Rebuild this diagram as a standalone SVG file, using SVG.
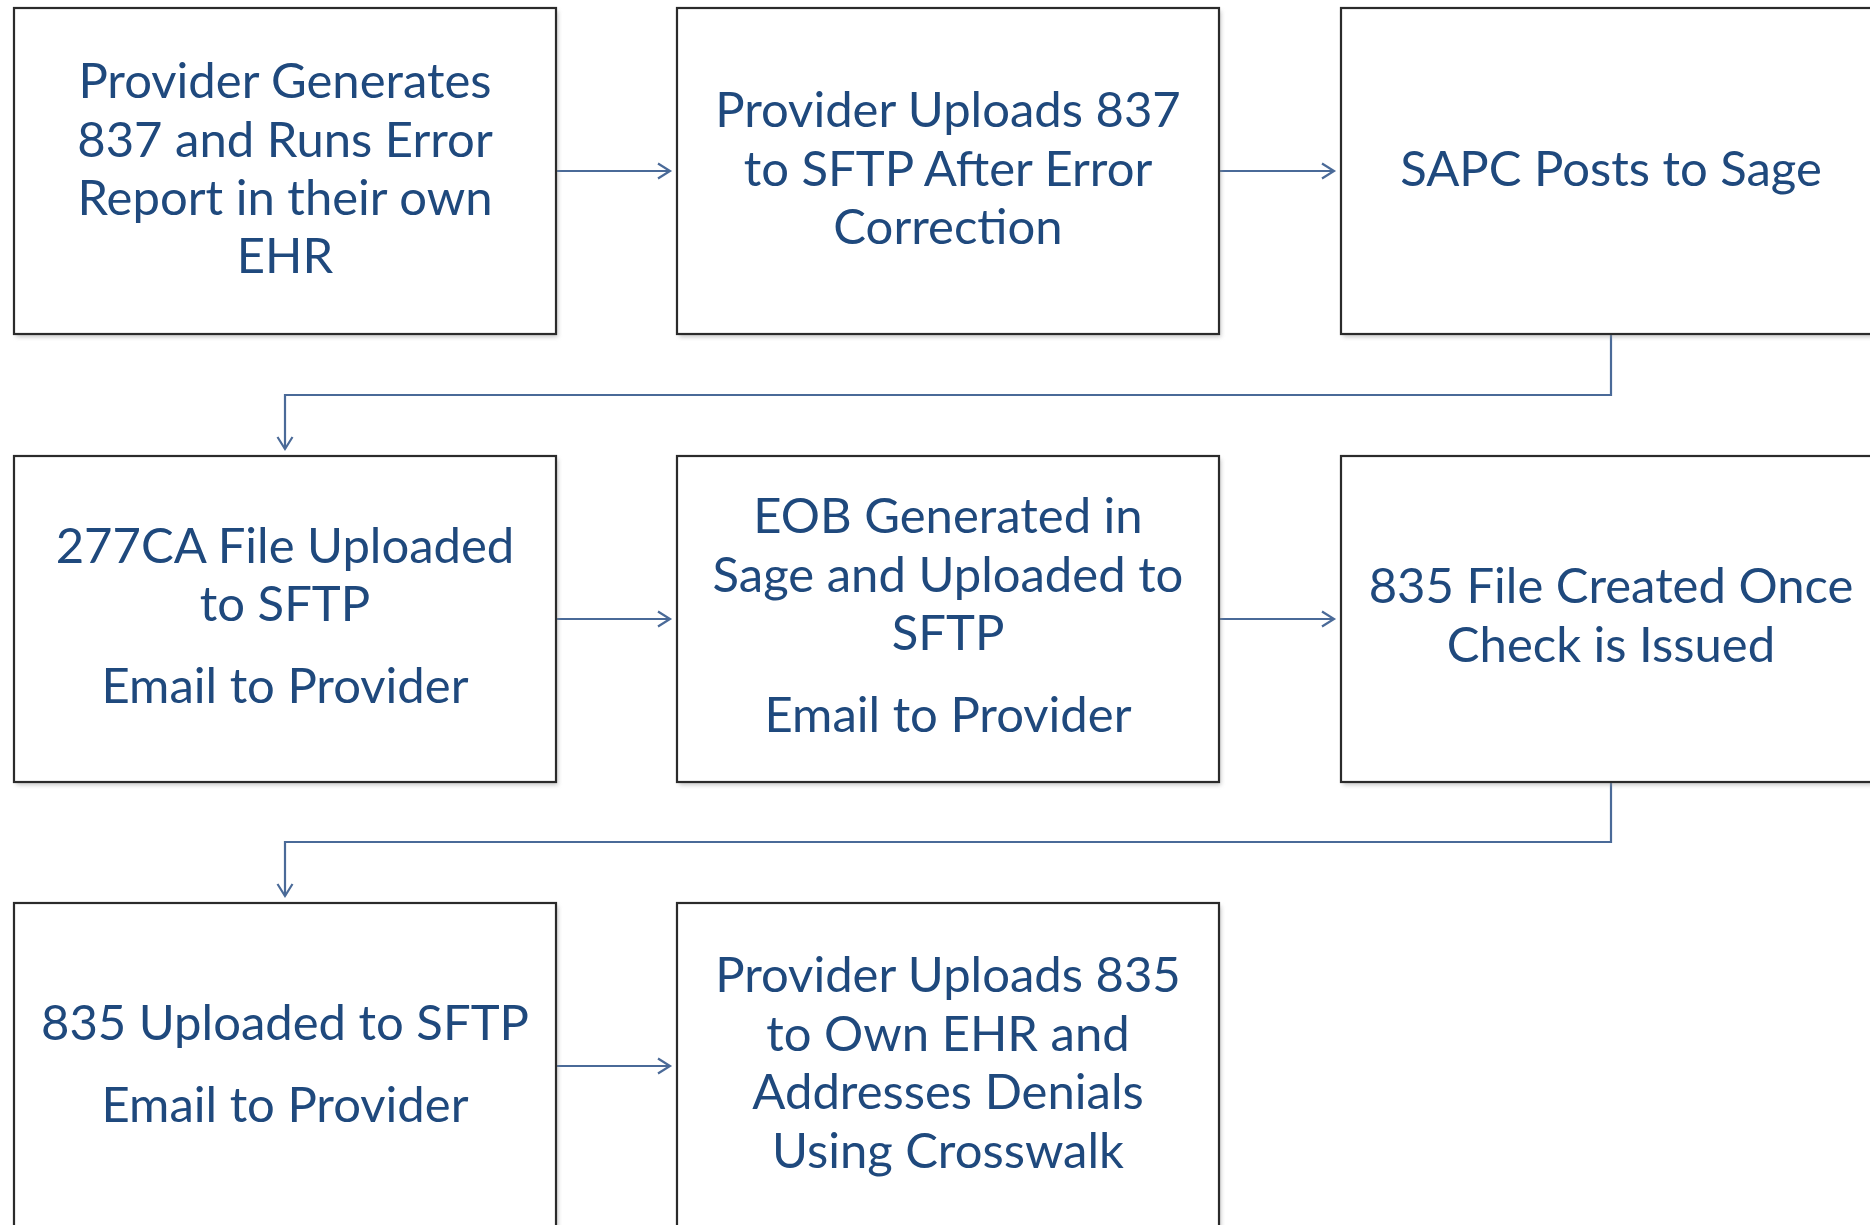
<svg xmlns="http://www.w3.org/2000/svg" width="1870" height="1225" viewBox="0 0 1870 1225">
<style>
.box{fill:#ffffff;stroke:#2b2b2b;stroke-width:2.2}
.sh{fill:#9a9a9a;opacity:0.55}
.t{font-family:Lato,"Liberation Sans",sans-serif;font-size:49px;fill:#1f497d;text-anchor:middle}
.c{fill:none;stroke:#4a6a98;stroke-width:2.2}
</style>
<defs>
<filter id="blur" x="-5%" y="-5%" width="110%" height="110%"><feGaussianBlur stdDeviation="2"/></filter>
<marker id="ah" markerWidth="18" markerHeight="18" refX="14" refY="9" orient="auto" markerUnits="userSpaceOnUse">
<path d="M2,1.5 L14,9 L2,16.5" fill="none" stroke="#4a6a98" stroke-width="2.2"/>
</marker>
</defs>
<rect width="1870" height="1225" fill="#ffffff"/>
<g id="connectors">
<line class="c" x1="556" y1="171" x2="670" y2="171" marker-end="url(#ah)"/>
<line class="c" x1="1219" y1="171" x2="1334" y2="171" marker-end="url(#ah)"/>
<polyline class="c" points="1611,334 1611,395 285,395 285,449" marker-end="url(#ah)"/>
<line class="c" x1="556" y1="619" x2="670" y2="619" marker-end="url(#ah)"/>
<line class="c" x1="1219" y1="619" x2="1334" y2="619" marker-end="url(#ah)"/>
<polyline class="c" points="1611,782 1611,842 285,842 285,896" marker-end="url(#ah)"/>
<line class="c" x1="556" y1="1066" x2="670" y2="1066" marker-end="url(#ah)"/>
</g>
<g id="n1">
<rect class="sh" x="16" y="11" width="542" height="326" filter="url(#blur)"/>
<rect class="box" x="14" y="8" width="542" height="326"/>
<text class="t" x="285" y="98">Provider Generates</text>
<text class="t" x="285" y="157">837 and Runs Error</text>
<text class="t" x="285" y="215">Report in their own</text>
<text class="t" x="285" y="273">EHR</text>
</g>
<g id="n2">
<rect class="sh" x="679" y="11" width="542" height="326" filter="url(#blur)"/>
<rect class="box" x="677" y="8" width="542" height="326"/>
<text class="t" x="948" y="127">Provider Uploads 837</text>
<text class="t" x="948" y="186">to SFTP After Error</text>
<text class="t" x="948" y="244">Correction</text>
</g>
<g id="n3">
<rect class="sh" x="1343" y="11" width="542" height="326" filter="url(#blur)"/>
<rect class="box" x="1341" y="8" width="542" height="326"/>
<text class="t" x="1611" y="186">SAPC Posts to Sage</text>
</g>
<g id="n4">
<rect class="sh" x="16" y="459" width="542" height="326" filter="url(#blur)"/>
<rect class="box" x="14" y="456" width="542" height="326"/>
<text class="t" x="285" y="563">277CA File Uploaded</text>
<text class="t" x="285" y="621">to SFTP</text>
<text class="t" x="285" y="703">Email to Provider</text>
</g>
<g id="n5">
<rect class="sh" x="679" y="459" width="542" height="326" filter="url(#blur)"/>
<rect class="box" x="677" y="456" width="542" height="326"/>
<text class="t" x="948" y="533">EOB Generated in</text>
<text class="t" x="948" y="592">Sage and Uploaded to</text>
<text class="t" x="948" y="650">SFTP</text>
<text class="t" x="948" y="732">Email to Provider</text>
</g>
<g id="n6">
<rect class="sh" x="1343" y="459" width="542" height="326" filter="url(#blur)"/>
<rect class="box" x="1341" y="456" width="542" height="326"/>
<text class="t" x="1611" y="603">835 File Created Once</text>
<text class="t" x="1611" y="662">Check is Issued</text>
</g>
<g id="n7">
<rect class="sh" x="16" y="906" width="542" height="326" filter="url(#blur)"/>
<rect class="box" x="14" y="903" width="542" height="326"/>
<text class="t" x="285" y="1040">835 Uploaded to SFTP</text>
<text class="t" x="285" y="1122">Email to Provider</text>
</g>
<g id="n8">
<rect class="sh" x="679" y="906" width="542" height="326" filter="url(#blur)"/>
<rect class="box" x="677" y="903" width="542" height="326"/>
<text class="t" x="948" y="992">Provider Uploads 835</text>
<text class="t" x="948" y="1051">to Own EHR and</text>
<text class="t" x="948" y="1109">Addresses Denials</text>
<text class="t" x="948" y="1168">Using Crosswalk</text>
</g>
</svg>
